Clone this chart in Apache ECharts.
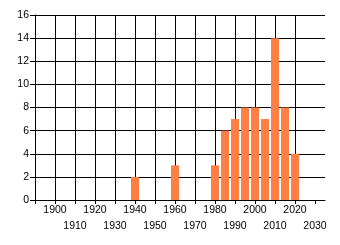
<!DOCTYPE html>
<html>
<head>
<meta charset="utf-8">
<script src="https://cdn.jsdelivr.net/npm/echarts@6/dist/echarts.min.js"></script>
<style>
html,body{margin:0;padding:0;background:#fff;}
#c{width:340px;height:245px;}
</style>
</head>
<body>
<div id="c"></div>
<script>
const years = [1940, 1960, 1980, 1985, 1990, 1995, 2000, 2005, 2010, 2015, 2020];
const counts = [2, 3, 3, 6, 7, 8, 8, 7, 14, 8, 4];
const xTicks = [1890, 1900, 1910, 1920, 1930, 1940, 1950, 1960, 1970, 1980, 1990, 2000, 2010, 2020, 2030];
const xLabelsRow1 = [1900, 1920, 1940, 1960, 1980, 2000, 2020];
const xLabelsRow2 = [1910, 1930, 1950, 1970, 1990, 2010, 2030];
const yTicks = [0, 2, 4, 6, 8, 10, 12, 14, 16];

const font = 'Liberation Sans';
const xMin = 1890, xMax = 2035;
const fmt = v => String(Math.round(v));
const chart = echarts.init(document.getElementById('c'), null, {renderer: 'canvas'});
chart.setOption({
  animation: false,
  grid: {left: 35, right: 15, top: 15, bottom: 45, containLabel: false},
  xAxis: [{
    type: 'value', min: xMin, max: xMax, interval: 10, position: 'bottom',
    axisLine: {show: true, lineStyle: {color: '#000', width: 1}},
    axisTick: {show: true, length: 4, customValues: xTicks, lineStyle: {color: '#000'}},
    axisLabel: {customValues: xLabelsRow1, formatter: fmt, margin: 5, color: '#000', fontFamily: font, fontSize: 10.5},
    splitLine: {show: true, showMinLine: true, showMaxLine: false, lineStyle: {color: '#000', width: 1}}
  }, {
    type: 'value', min: xMin, max: xMax, interval: 10, position: 'bottom',
    axisLine: {show: false}, axisTick: {show: false}, splitLine: {show: false},
    axisLabel: {customValues: xLabelsRow2, formatter: fmt, margin: 21, color: '#000', fontFamily: font, fontSize: 10.5}
  }],
  yAxis: {
    type: 'value', min: yTicks[0], max: yTicks[yTicks.length - 1], interval: 2,
    axisLine: {show: true, lineStyle: {color: '#000', width: 1}},
    axisTick: {show: true, length: 5, lineStyle: {color: '#000'}},
    axisLabel: {margin: 6, color: '#000', fontFamily: font, fontSize: 10.5},
    splitLine: {show: true, lineStyle: {color: '#000', width: 1}}
  },
  series: [{
    type: 'bar', xAxisIndex: 0,
    data: years.map((y, i) => [y, counts[i]]),
    barWidth: 8,
    itemStyle: {color: '#FF7F45'}
  }]
});
</script>
</body>
</html>
